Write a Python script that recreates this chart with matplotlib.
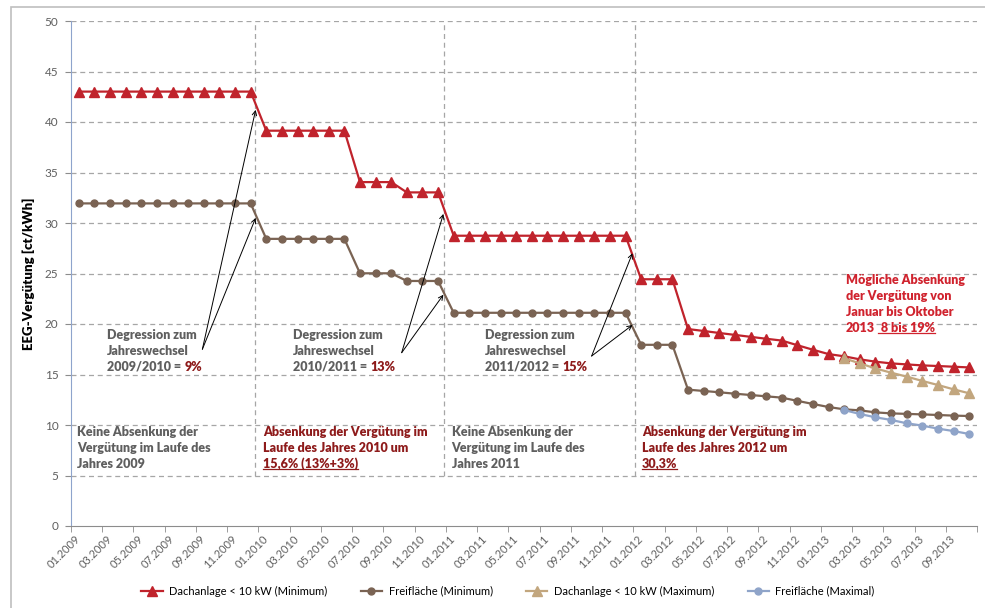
import numpy as np
import matplotlib
matplotlib.use("Agg")
import matplotlib.pyplot as plt
from matplotlib.lines import Line2D
from matplotlib.patches import Rectangle

# Monats-Kategorien 01.2009 - 10.2013 (58 Monate)
tick_labels = [
    "01.2009", "03.2009", "05.2009", "07.2009", "09.2009", "11.2009",
    "01.2010", "03.2010", "05.2010", "07.2010", "09.2010", "11.2010",
    "01.2011", "03.2011", "05.2011", "07.2011", "09.2011", "11.2011",
    "01.2012", "03.2012", "05.2012", "07.2012", "09.2012", "11.2012",
    "01.2013", "03.2013", "05.2013", "07.2013", "09.2013",
]

nan = np.nan

# EEG-Vergütung in ct/kWh
dach_min = [
    43.01, 43.01, 43.01, 43.01, 43.01, 43.01, 43.01, 43.01, 43.01, 43.01, 43.01, 43.01,
    39.14, 39.14, 39.14, 39.14, 39.14, 39.14, 34.05, 34.05, 34.05, 33.03, 33.03, 33.03,
    28.74, 28.74, 28.74, 28.74, 28.74, 28.74, 28.74, 28.74, 28.74, 28.74, 28.74, 28.74,
    24.43, 24.43, 24.43, 19.50, 19.31, 19.11, 18.92, 18.73, 18.54, 18.36, 17.90, 17.45,
    17.02, 16.80, 16.50, 16.27, 16.10, 16.00, 15.90, 15.84, 15.77, 15.70,
]
frei_min = [
    31.94, 31.94, 31.94, 31.94, 31.94, 31.94, 31.94, 31.94, 31.94, 31.94, 31.94, 31.94,
    28.43, 28.43, 28.43, 28.43, 28.43, 28.43, 25.02, 25.02, 25.02, 24.26, 24.26, 24.26,
    21.11, 21.11, 21.11, 21.11, 21.11, 21.11, 21.11, 21.11, 21.11, 21.11, 21.11, 21.11,
    17.94, 17.94, 17.94, 13.50, 13.37, 13.24, 13.10, 12.97, 12.84, 12.71, 12.39, 12.08,
    11.78, 11.55, 11.45, 11.25, 11.15, 11.10, 11.05, 10.99, 10.93, 10.89,
]
dach_max = [
    nan, nan, nan, nan, nan, nan, nan, nan, nan, nan, nan, nan,
    nan, nan, nan, nan, nan, nan, nan, nan, nan, nan, nan, nan,
    nan, nan, nan, nan, nan, nan, nan, nan, nan, nan, nan, nan,
    nan, nan, nan, nan, nan, nan, nan, nan, nan, nan, nan, nan,
    nan, 16.60, 16.10, 15.60, 15.18, 14.79, 14.36, 13.96, 13.53, 13.14,
]
frei_max = [
    nan, nan, nan, nan, nan, nan, nan, nan, nan, nan, nan, nan,
    nan, nan, nan, nan, nan, nan, nan, nan, nan, nan, nan, nan,
    nan, nan, nan, nan, nan, nan, nan, nan, nan, nan, nan, nan,
    nan, nan, nan, nan, nan, nan, nan, nan, nan, nan, nan, nan,
    nan, 11.48, 11.09, 10.76, 10.50, 10.17, 9.94, 9.64, 9.40, 9.11,
]

red = "#C0232C"
brown = "#7A6353"
tan = "#C2A67E"
blue = "#8FA4C9"
gray_txt = "#5F5F5F"
dark_red = "#8E1B1B"
light_red = "#D0232E"
grid_c = "#A6A6A6"

plt.rcParams["font.family"] = ["Lato", "DejaVu Sans"]

fig = plt.figure(figsize=(9.85, 6.08), dpi=100)
ax = fig.add_axes([71 / 985, 82 / 608, 906 / 985, 505 / 608])

x = np.arange(len(dach_min))

ax.plot(x, dach_min, color=red, lw=1.6, marker="^", ms=6.5, zorder=5,
        label="Dachanlage < 10 kW (Minimum)")
ax.plot(x, frei_min, color=brown, lw=1.6, marker="o", ms=5, zorder=5,
        label="Freifläche (Minimum)")
ax.plot(x, dach_max, color=tan, lw=1.6, marker="^", ms=6.5, zorder=6,
        label="Dachanlage < 10 kW (Maximum)")
ax.plot(x, frei_max, color=blue, lw=1.6, marker="o", ms=5, zorder=6,
        label="Freifläche (Maximal)")

ax.set_xlim(-0.5, 57.5)
ax.set_ylim(0, 50)

# horizontale Gitterlinien
ax.set_yticks(np.arange(0, 51, 5))
for v in range(5, 51, 5):
    ax.axhline(v, color=grid_c, lw=0.9, linestyle=(0, (4, 3)), zorder=1)

# Kästen um die Jahresabschnitte
for xv in [11.28, 23.4, 35.6]:
    ax.vlines(xv, 5, 50, color=grid_c, lw=0.9, linestyle=(0, (4, 3)), zorder=1)

ax.set_xticks(np.arange(0, 58, 2))
ax.set_xticklabels(tick_labels, rotation=45, ha="right", va="center",
                   rotation_mode="anchor", fontsize=8, color=gray_txt)
ax.tick_params(axis="x", which="major", length=0, pad=8)
ax.set_xticks(np.arange(-0.5, 58, 2), minor=True)
ax.tick_params(axis="x", which="minor", length=4, color="#8C8C8C", direction="out")
ax.tick_params(axis="y", length=4, color="#8C8C8C", labelsize=8.5,
               labelcolor=gray_txt, pad=5)

for s in ["top", "right"]:
    ax.spines[s].set_visible(False)
ax.spines["left"].set_color("#8EA4CC")
ax.spines["bottom"].set_color("#8C8C8C")

ax.set_ylabel("EEG-Vergütung [ct/kWh]", fontsize=9.5, fontweight=800)
ax.yaxis.set_label_coords((35 - 71) / 906, 0.5)

# Pfeile
arrows = [
    ((7.91, 17.5), [(11.32, 41.2), (11.32, 30.5)]),
    ((20.67, 17.16), [(23.34, 30.9), (23.34, 22.9)]),
    ((32.83, 16.83), [(35.44, 27.0), (35.44, 19.9)]),
]
for start, heads in arrows:
    for h in heads:
        ax.annotate("", xy=h, xytext=start,
                    arrowprops=dict(arrowstyle="->", lw=0.7, color="black",
                                    shrinkA=0, shrinkB=0, mutation_scale=8),
                    zorder=7)

fs = 9
fw = 800
underlined = []


def block(x0, ys, lines):
    for y, segs in zip(ys, lines):
        prev = None
        for s, c, ul in segs:
            if prev is None:
                t = ax.text(x0, y, s, color=c, fontsize=fs, fontweight=fw,
                            ha="left", va="baseline", zorder=8)
            else:
                t = ax.annotate(s, xy=(1, 0), xycoords=prev, xytext=(2.5, 0),
                                textcoords="offset points", color=c, fontsize=fs,
                                fontweight=fw, ha="left", va="bottom", zorder=8)
            if ul:
                underlined.append((t, c))
            prev = t


b1 = [18.51, 16.93, 15.35]
block(1.78, b1, [[("Degression zum", gray_txt, False)],
                 [("Jahreswechsel", gray_txt, False)],
                 [("2009/2010 =", gray_txt, False), ("9%", dark_red, False)]])
block(13.71, b1, [[("Degression zum", gray_txt, False)],
                  [("Jahreswechsel", gray_txt, False)],
                  [("2010/2011 =", gray_txt, False), ("13%", dark_red, False)]])
block(26.0, b1, [[("Degression zum", gray_txt, False)],
                 [("Jahreswechsel", gray_txt, False)],
                 [("2011/2012 =", gray_txt, False), ("15%", dark_red, False)]])

b2 = [8.91, 7.33, 5.74]
block(-0.1, b2, [[("Keine Absenkung der", gray_txt, False)],
                 [("Vergütung im Laufe des", gray_txt, False)],
                 [("Jahres 2009", gray_txt, False)]])
block(11.81, b2, [[("Absenkung der Vergütung im", dark_red, False)],
                  [("Laufe des Jahres 2010 um", dark_red, False)],
                  [("15,6% (13%+3%)", dark_red, True)]])
block(23.86, b2, [[("Keine Absenkung der", gray_txt, False)],
                  [("Vergütung im Laufe des", gray_txt, False)],
                  [("Jahres 2011", gray_txt, False)]])
block(36.06, b2, [[("Absenkung der Vergütung im", dark_red, False)],
                  [("Laufe des Jahres 2012 um", dark_red, False)],
                  [("30,3%", dark_red, True)]])

block(49.1, [23.96, 22.38, 20.79, 19.21],
      [[("Mögliche Absenkung", light_red, False)],
       [("der Vergütung von", light_red, False)],
       [("Januar bis Oktober", light_red, False)],
       [("2013", light_red, False), (" 8 bis 19%", light_red, True)]])

leg = fig.legend(loc="center", bbox_to_anchor=(508 / 985, 17 / 608), ncol=4,
                 frameon=False, fontsize=8, handlelength=1.9, columnspacing=3.0,
                 handletextpad=0.6)
for t in leg.get_texts():
    t.set_color("black")

# Rahmen des Diagrammbereichs
fig.patches.append(Rectangle((11 / 985, -0.1), 1.2, 601 / 608 + 0.1,
                             transform=fig.transFigure, fill=False,
                             edgecolor="#BFBFBF", lw=1.2))

# Unterstreichungen
fig.canvas.draw()
r = fig.canvas.get_renderer()
inv = fig.transFigure.inverted()
for t, c in underlined:
    bb = t.get_window_extent(r)
    (x0, y0), (x1, _) = inv.transform([(bb.x0, bb.y0 + 1.0), (bb.x1, bb.y0)])
    fig.add_artist(Line2D([x0, x1], [y0, y0], transform=fig.transFigure,
                          color=c, lw=0.9))

fig.savefig("out.png", dpi=100)
